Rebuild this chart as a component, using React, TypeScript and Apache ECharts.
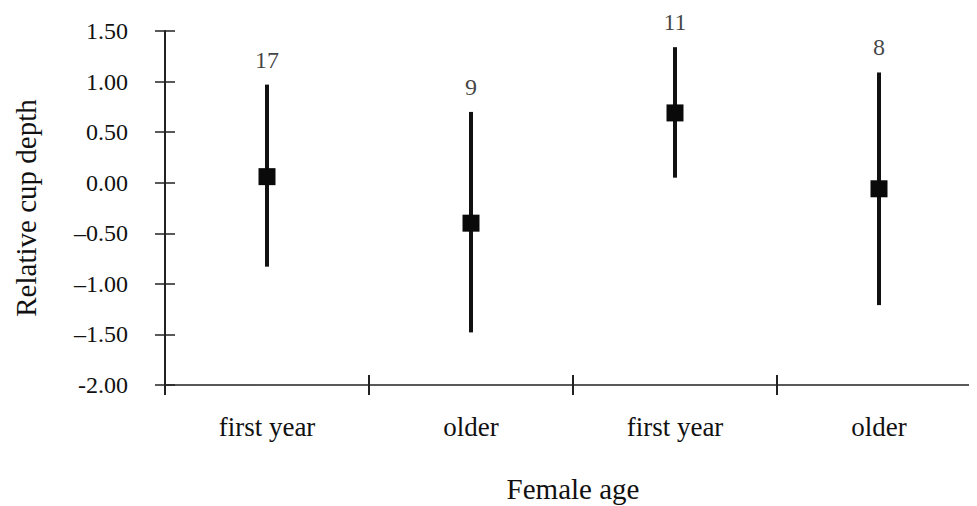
import React, { useEffect, useRef } from "react";
import * as echarts from "echarts";

const categories = ["first year", "older", "first year", "older"];
const means = [0.06, -0.4, 0.69, -0.06];
const upper = [0.97, 0.7, 1.34, 1.09];
const lower = [-0.83, -1.48, 0.05, -1.21];
const counts = [17, 9, 11, 8];
const yTickLabels: Record<string, string> = {
  "1.5": "1.50",
  "1": "1.00",
  "0.5": "0.50",
  "0": "0.00",
  "-0.5": "–0.50",
  "-1": "–1.00",
  "-1.5": "–1.50",
  "-2": "-2.00",
};

const FONT = "'Liberation Serif', 'DejaVu Serif', serif";
const TXT = "#111";
const AX = "#222";

export default function App() {
  const ref = useRef<HTMLDivElement>(null);
  useEffect(() => {
    if (!ref.current) return;
    const chart = echarts.init(ref.current, undefined, { renderer: "svg" });
    const grid = { left: 165, top: 31, width: 816, bottom: 121, outerBoundsMode: "none", containLabel: false };
    chart.setOption({
      animation: false,
      backgroundColor: "#fff",
      grid,
      xAxis: [
        {
          type: "category",
          data: categories,
          boundaryGap: true,
          axisLine: { onZero: false, lineStyle: { color: AX, width: 1.5 } },
          axisTick: { show: true, length: 10, lineStyle: { color: AX, width: 2 } },
          axisLabel: { margin: 28, fontFamily: FONT, fontSize: 27, color: TXT },
          name: "Female age",
          nameLocation: "middle",
          nameGap: 89,
          nameTextStyle: { fontFamily: FONT, fontSize: 29, color: TXT },
        },
        {
          type: "category",
          data: categories,
          position: "bottom",
          boundaryGap: true,
          axisLine: { show: false, onZero: false },
          axisTick: { show: true, inside: true, length: 10, lineStyle: { color: AX, width: 2 } },
          axisLabel: { show: false },
        },
      ],
      yAxis: [
        {
          type: "value",
          min: -2,
          max: 1.5,
          interval: 0.5,
          splitLine: { show: false },
          axisLine: { show: true, onZero: false, lineStyle: { color: AX, width: 2 } },
          axisTick: { show: true, length: 10, lineStyle: { color: AX, width: 1.5 } },
          axisLabel: {
            margin: 37,
            fontFamily: FONT,
            fontSize: 24,
            color: TXT,
            formatter: (v: number) => yTickLabels[String(v)] ?? v.toFixed(2),
          },
          name: "Relative cup depth",
          nameLocation: "middle",
          nameGap: 125,
          nameRotate: 90,
          nameTextStyle: { fontFamily: FONT, fontSize: 29, color: TXT },
        },
        {
          type: "value",
          min: -2,
          max: 1.5,
          interval: 0.5,
          position: "left",
          splitLine: { show: false },
          axisLine: { show: false, onZero: false },
          axisTick: { show: true, inside: true, length: 10, lineStyle: { color: AX, width: 1.5 } },
          axisLabel: { show: false },
        },
      ],
      series: [
        {
          type: "custom",
          data: categories.map((_, i) => [i, lower[i], upper[i]]),
          renderItem: (params: any, api: any) => {
            const lo = api.coord([api.value(0), api.value(1)]);
            const hi = api.coord([api.value(0), api.value(2)]);
            return {
              type: "line",
              shape: { x1: lo[0], y1: lo[1], x2: hi[0], y2: hi[1] },
              style: { stroke: "#111", lineWidth: 4 },
            };
          },
          z: 2,
        },
        {
          type: "scatter",
          data: categories.map((_, i) => [i, means[i]]),
          symbol: "rect",
          symbolSize: 17,
          itemStyle: { color: "#0a0a0a", opacity: 1 },
          z: 3,
        },
        {
          type: "scatter",
          data: categories.map((_, i) => [i, upper[i], counts[i]]),
          symbolSize: 0,
          itemStyle: { color: "transparent" },
          label: {
            show: true,
            position: "top",
            distance: 13,
            fontFamily: FONT,
            fontSize: 24,
            color: TXT,
            formatter: (p: any) => String(p.value[2]),
          },
          z: 3,
        },
      ],
    });
    return () => chart.dispose();
  }, []);
  return <div ref={ref} style={{ width: 977, height: 506, marginLeft: -8, marginTop: -8 }} />;
}
